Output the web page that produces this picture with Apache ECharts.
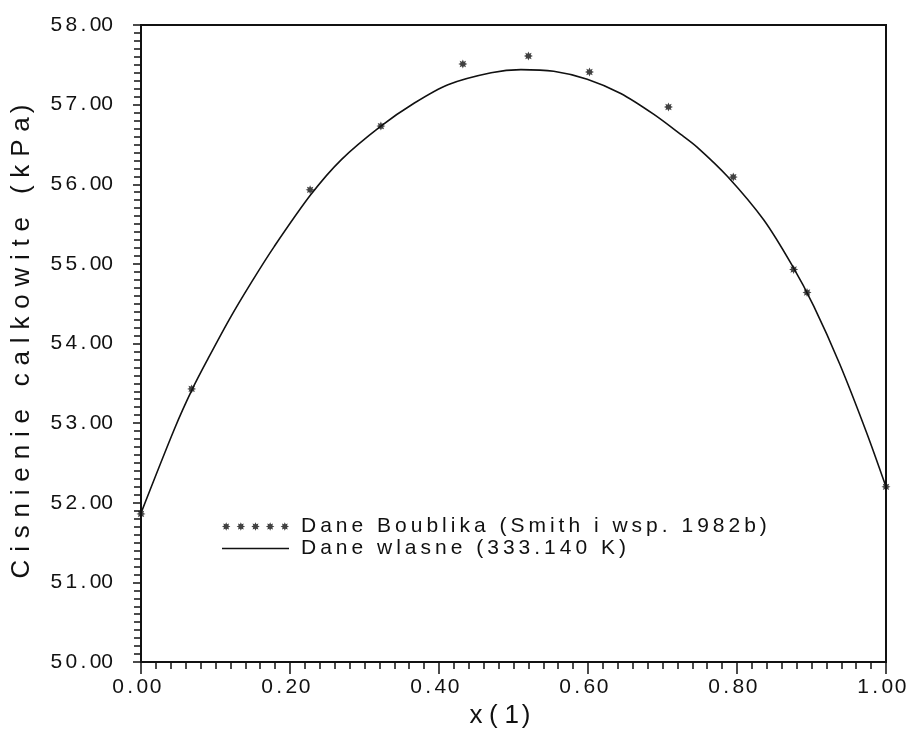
<!DOCTYPE html>
<html>
  <head>
    <meta charset="UTF-8">
    <script src="https://cdn.jsdelivr.net/npm/echarts@6/dist/echarts.min.js"></script>
    <title>Cisnienie calkowite</title>
    <style>
      html, body { margin: 0; padding: 0; background: #fff; }
    </style>
  </head>
  <body>
    <div id="main" style="width: 910px;height:732px;"></div>
    <script type="text/javascript">
      // punkty pomiarowe (Boublik)
      var boublikX = [0.000, 0.068, 0.227, 0.322, 0.432, 0.520, 0.602, 0.708, 0.795, 0.876, 0.894, 1.000];
      var boublikP = [51.86, 53.43, 55.93, 56.73, 57.51, 57.61, 57.41, 56.97, 56.09, 54.93, 54.64, 52.20];

      // krzywa - dane wlasne
      var wlasneX = [0.000, 0.045, 0.069, 0.090, 0.119, 0.149, 0.179, 0.228, 0.269, 0.322, 0.367, 0.412,
                     0.470, 0.510, 0.554, 0.599, 0.644, 0.688, 0.724, 0.746, 0.787, 0.836, 0.874, 0.903,
                     0.938, 0.974, 1.000];
      var wlasneP = [51.87, 52.93, 53.43, 53.81, 54.31, 54.78, 55.22, 55.87, 56.31, 56.73, 57.02, 57.25,
                     57.40, 57.44, 57.42, 57.32, 57.14, 56.88, 56.63, 56.47, 56.10, 55.55, 54.98, 54.47,
                     53.74, 52.88, 52.20];

      var xTickLabels = ['0.00', '0.20', '0.40', '0.60', '0.80', '1.00'];
      var yTickLabels = ['50.00', '51.00', '52.00', '53.00', '54.00', '55.00', '56.00', '57.00', '58.00'];

      var seriesNames = ['Dane Boublika (Smith i wsp. 1982b)', 'Dane wlasne (333.140 K)'];
      var xName = 'x(1)';
      var yName = 'Cisnienie calkowite (kPa)';

      // tekst z rozstrzelonymi literami (jak na ploterze) - rich text litera po literze
      var FONT = 'Liberation Sans';
      var ctx = document.createElement('canvas').getContext('2d');
      var rich = {};
      function spaced(text, size, gap, key, lh) {
        ctx.font = size + 'px "' + FONT + '"';
        var out = '';
        for (var i = 0; i < text.length; i++) {
          var ch = text[i];
          var last = i === text.length - 1;
          var name = key + ch.charCodeAt(0) + (last ? 'e' : '');
          rich[name] = {
            width: ctx.measureText(ch).width + (last ? 0 : gap),
            fontSize: size,
            fontFamily: FONT,
            color: '#111',
            lineHeight: lh || size
          };
          out += '{' + name + '|' + ch + '}';
        }
        return out;
      }

      var xLabels = xTickLabels.map(function (t) { return spaced(t, 21, 3, 't'); });
      var yLabels = yTickLabels.map(function (t) { return spaced(t, 21, 3.3, 't'); });
      rich.pad = { width: 7, fontSize: 20, lineHeight: 20 };
      var legendLabels = {};
      seriesNames.forEach(function (n) {
        legendLabels[n] = '{pad| }' + spaced(n, 21, 4, 'l', 20);
      });
      var xNameRich = spaced(xName, 26, 5.5, 'n');
      var yNameRich = spaced(yName, 26, 7.8, 'n');

      // gwiazdka
      function star(cx, cy, r) {
        var p = '';
        for (var k = 0; k < 16; k++) {
          var a = k * Math.PI / 8;
          var rr = k % 2 === 0 ? r : r * 0.55;
          p += (k === 0 ? 'M' : 'L') + (cx + rr * Math.cos(a)).toFixed(2) + ',' + (cy + rr * Math.sin(a)).toFixed(2);
        }
        return p + 'Z';
      }
      var starSymbol = 'path://' + star(0, 0, 5);
      var starRow = 'path://' + [5, 19, 33, 47, 61].map(function (c) { return star(c, 5, 4); }).join('');
      var lineIcon = 'path://M0,0H67V1.6H0Z';

      var myChart = echarts.init(document.getElementById('main'));

      var option = {
        backgroundColor: '#fff',
        animation: false,
        grid: {
          left: 141, right: 24, top: 25, bottom: 70,
          outerBoundsMode: 'none',
          containLabel: false,
          show: true, borderColor: '#111', borderWidth: 2
        },
        legend: {
          orient: 'vertical',
          left: 217, top: 511,
          itemWidth: 67, itemHeight: 10,
          itemGap: 1,
          data: [
            { name: seriesNames[0], icon: starRow },
            { name: seriesNames[1], icon: lineIcon }
          ],
          formatter: function (name) { return legendLabels[name]; },
          textStyle: { rich: rich }
        },
        xAxis: {
          type: 'value',
          min: 0, max: 1, interval: 0.2,
          name: xNameRich,
          nameLocation: 'middle',
          nameGap: 30,
          nameTextStyle: { rich: rich, padding: [0, 30, 0, 0] },
          axisLine: { lineStyle: { color: '#111', width: 2 } },
          axisTick: { length: 12, lineStyle: { color: '#111', width: 1.5 } },
          minorTick: { show: true, splitNumber: 10, length: 7, lineStyle: { color: '#111', width: 1.5 } },
          splitLine: { show: false },
          axisLabel: {
            margin: 15,
            padding: [0, 10, 0, 0],
            formatter: function (v) { return xLabels[Math.round(v / 0.2)]; },
            rich: rich
          }
        },
        yAxis: {
          type: 'value',
          min: 50, max: 58, interval: 1,
          name: yNameRich,
          nameLocation: 'middle',
          nameRotate: 90,
          nameGap: 106,
          nameTextStyle: { rich: rich },
          axisLine: { show: true, lineStyle: { color: '#111', width: 2 } },
          axisTick: { show: true, length: 8, lineStyle: { color: '#111', width: 1.5 } },
          minorTick: { show: true, splitNumber: 10, length: 7, lineStyle: { color: '#111', width: 1.5 } },
          splitLine: { show: false },
          axisLabel: {
            margin: 28,
            formatter: function (v) { return yLabels[Math.round(v - 50)]; },
            rich: rich
          }
        },
        series: [
          {
            name: seriesNames[0],
            type: 'scatter',
            symbol: starSymbol,
            symbolSize: 9,
            itemStyle: { color: '#111' },
            z: 3,
            data: boublikX.map(function (x, i) { return [x, boublikP[i]]; })
          },
          {
            name: seriesNames[1],
            type: 'line',
            smooth: 0.3,
            showSymbol: false,
            symbol: 'none',
            lineStyle: { color: '#111', width: 1.6 },
            itemStyle: { color: '#111' },
            z: 2,
            data: wlasneX.map(function (x, i) { return [x, wlasneP[i]]; })
          }
        ]
      };

      myChart.setOption(option);
    </script>
  </body>
</html>
